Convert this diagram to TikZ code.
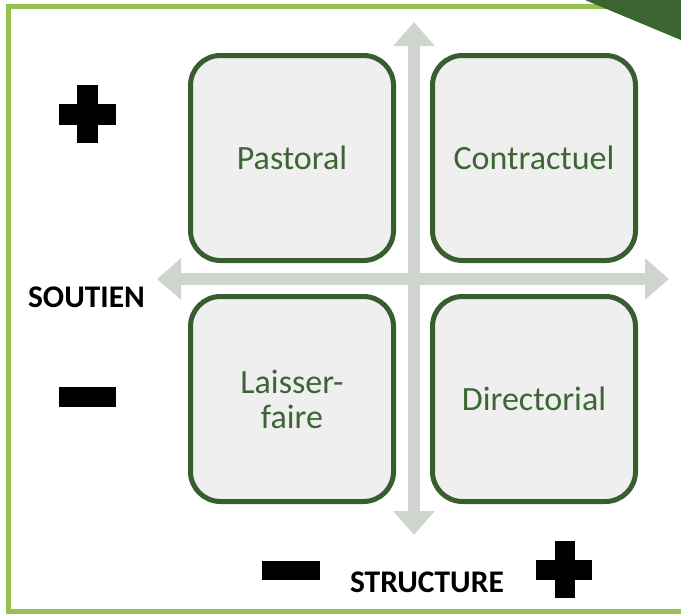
\documentclass[tikz,border=0pt]{standalone}
\usepackage{fontspec}
\setmainfont{Carlito}
\usetikzlibrary{arrows.meta}
\definecolor{frameg}{RGB}{150,192,84}
\definecolor{darkg}{RGB}{56,94,48}
\definecolor{cornerg}{RGB}{58,100,50}
\definecolor{textg}{RGB}{60,102,52}
\definecolor{arrowg}{RGB}{207,212,206}
\definecolor{boxfill}{RGB}{239,239,239}
\begin{document}
\begin{tikzpicture}[x=1pt,y=-1pt,
  quad/.style={draw=darkg, line width=5pt, fill=boxfill, rounded corners=30pt,
    minimum width=203pt, minimum height=205pt, inner sep=0pt,
    font=\fontsize{34}{35}\selectfont, text=textg, align=center},
  axislabel/.style={font=\fontsize{31.5}{34}\selectfont\bfseries, text=black, inner sep=0pt, anchor=base},
  axisarrow/.style={draw=arrowg, line width=12pt,
    {Triangle[width=40pt,length=24pt]}-{Triangle[width=40pt,length=24pt]}},
  sign/.style={fill=black}]
\useasboundingbox (0,0) rectangle (681,614);
% frame
\draw[frameg, line width=5pt] (681,6.5) -- (8.5,6.5) -- (8.5,611.5) -- (681,611.5);
\fill[cornerg] (585,0) -- (681,0) -- (681,40) -- cycle;
% axes
\coordinate (vtop) at (414,22);
\coordinate (vbot) at (414,535);
\coordinate (hleft) at (157,279);
\coordinate (hright) at (669,279);
\draw[axisarrow] (vtop) -- (vbot);
\draw[axisarrow] (hleft) -- (hright);
% boxes
\node[quad] (pastoral) at (292,158) {Pastoral};
\node[quad] (contractuel) at (534,158) {Contractuel};
\node[quad] (laisser) at (292,399) {Laisser-\\faire};
\node[quad] (directorial) at (534,399) {Directorial};
% axis labels
\node[axislabel] (soutien) at (86.5,307) {SOUTIEN};
\node[axislabel] (structure) at (427,592) {STRUCTURE};
% signs
\fill[sign] (59,104) rectangle (116,125);
\fill[sign] (77,85) rectangle (98,143);
\fill[sign] (59,387) rectangle (116,407);
\fill[sign] (262,561) rectangle (320,580);
\fill[sign] (536,559.5) rectangle (592,579.5);
\fill[sign] (555,541) rectangle (574.5,598);
\end{tikzpicture}
\end{document}
